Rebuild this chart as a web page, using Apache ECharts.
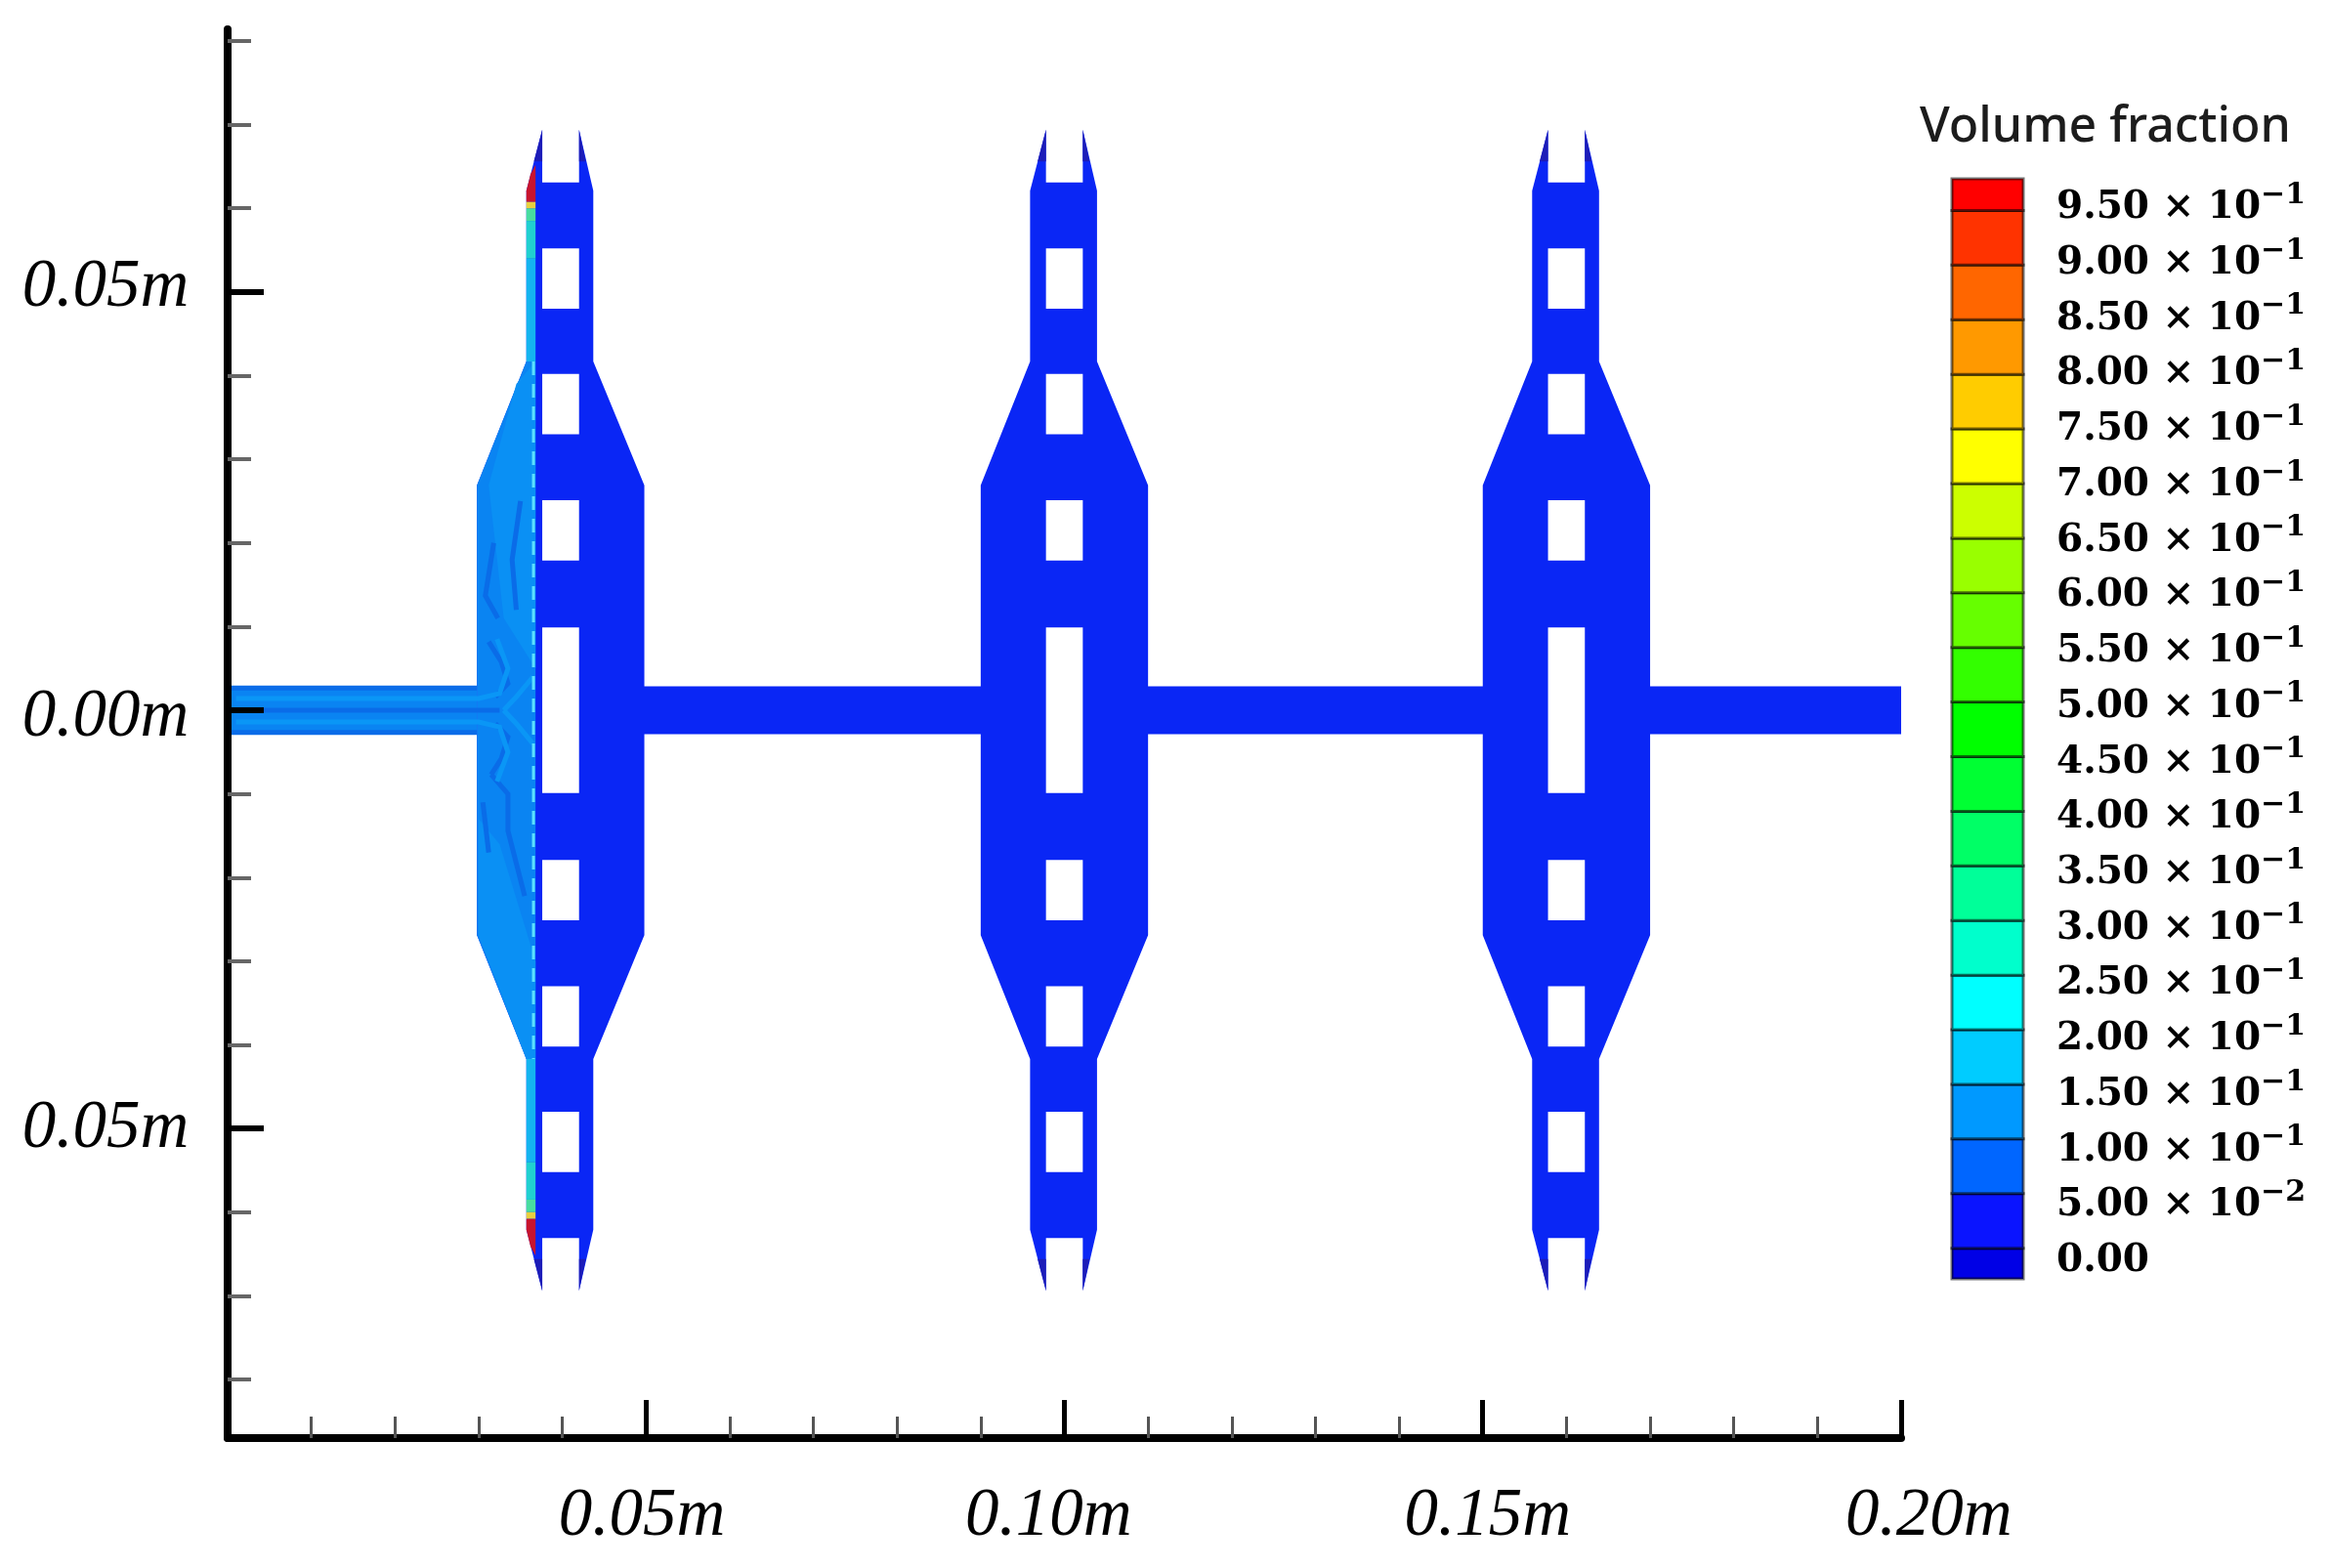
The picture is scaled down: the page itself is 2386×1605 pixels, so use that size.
<!DOCTYPE html>
<html><head><meta charset="utf-8">
<style>html,body{margin:0;padding:0;background:#fff}#c{width:2386px;height:1605px}</style>
<script src="https://cdn.jsdelivr.net/npm/echarts@6/dist/echarts.min.js"></script>
</head><body><div id="c"></div>
<script>
// ---- axes (metres)
const xMajorTicks = [0, 0.05, 0.10, 0.15, 0.20];
const yMajorTicks = [-0.05, 0, 0.05];
const yMinorTicks = [-0.08,-0.07,-0.06,-0.04,-0.03,-0.02,-0.01,0.01,0.02,0.03,0.04,0.06,0.07,0.08];
const xTickLabels = ['0.05m','0.10m','0.15m','0.20m'];
const xTickLabelPos = [[0.0495,-0.0965],[0.0981,-0.0965],[0.1506,-0.0965],[0.2033,-0.0965]];
const yTickLabels = ['0.05m','0.00m','0.05m'];
const yTickLabelPos = [[-0.0146,0.0505],[-0.0146,-0.0009],[-0.0146,-0.0501]];

// ---- colour scale
const legendTitle = 'Volume fraction';
const legendLevels = [0,0.05,0.10,0.15,0.20,0.25,0.30,0.35,0.40,0.45,0.50,0.55,0.60,0.65,0.70,0.75,0.80,0.85,0.90,0.95];
const legendMantissa = ['0.00','5.00','1.00','1.50','2.00','2.50','3.00','3.50','4.00','4.50','5.00','5.50','6.00','6.50','7.00','7.50','8.00','8.50','9.00','9.50'];
const legendExponent = ['','−2','−1','−1','−1','−1','−1','−1','−1','−1','−1','−1','−1','−1','−1','−1','−1','−1','−1','−1'];
const bandEdges = [-0.003,0.025,0.075,0.125,0.175,0.225,0.275,0.325,0.375,0.425,0.475,0.525,0.575,0.625,0.675,0.725,0.775,0.825,0.875,0.925,0.975,1.004];
const bandColors = ['#0000e6','#0a14ff','#0066ff','#0099ff','#00ccff','#00ffff','#00ffcc','#00ff99','#00ff66','#00ff33','#00ff00','#33ff00','#66ff00','#99ff00','#ccff00','#ffff00','#ffcc00','#ff9900','#ff6600','#ff3300','#ff0000'];

// ---- geometry of the channel (metres)
const unitCentres = [0.0398, 0.1000, 0.1600];
const unitOutline = [[-0.0022,0.0694],[-0.0041,0.0621],[-0.0041,0.0417],[-0.0100,0.0269],[-0.0100,-0.0269],[-0.0041,-0.0417],[-0.0041,-0.0621],[-0.0022,-0.0694],[-0.0022,-0.0631],[0.0022,-0.0631],[0.0022,-0.0694],[0.0039,-0.0621],[0.0039,-0.0417],[0.0100,-0.0269],[0.0100,0.0269],[0.0039,0.0417],[0.0039,0.0621],[0.0022,0.0694],[0.0022,0.0631],[-0.0022,0.0631]];
const holeRanges = [[-0.0099,0.0099],[0.0179,0.0251],[-0.0251,-0.0179],[0.0330,0.0402],[-0.0402,-0.0330],[0.0480,0.0552],[-0.0552,-0.0480]];
const holeHalfWidth = 0.0022;
const channelHalfHeight = 0.00286;
const channelEnd = 0.2;
const tipShades = [[[-0.0022,0.0694],[-0.0032,0.0656],[-0.0022,0.0656]],[[0.0022,0.0694],[0.0030,0.0656],[0.0022,0.0656]],[[-0.0022,-0.0694],[-0.0032,-0.0656],[-0.0022,-0.0656]],[[0.0022,-0.0694],[0.0030,-0.0656],[0.0022,-0.0656]]];

// ---- volume-fraction field in the first chamber (metres)
const inletChannel = [[0,0.00286],[0.0298,0.00286],[0.0298,-0.00286],[0,-0.00286]];
const flareRegion = [[0.0357,0.0417],[0.0298,0.0269],[0.0298,-0.0269],[0.0357,-0.0417],[0.0368,-0.0417],[0.0368,0.0417]];
const lightPatches = [
 [[0.0345,0.0390],[0.0312,0.0269],[0.0330,0.0110],[0.0368,0.0050],[0.0368,0.0417]],
 [[0.0300,-0.0130],[0.0325,-0.0160],[0.0368,-0.0300],[0.0368,-0.0417],[0.0357,-0.0417],[0.0300,-0.0269]]
];
const stripBands = [
 {color:'#14b4f0',pts:[[0.0357,0.0417],[0.0357,0.0540],[0.0368,0.0540],[0.0368,0.0417]]},
 {color:'#20d0d0',pts:[[0.0357,0.0540],[0.0357,0.0585],[0.0368,0.0585],[0.0368,0.0540]]},
 {color:'#48dca0',pts:[[0.0357,0.0585],[0.0357,0.0600],[0.0368,0.0600],[0.0368,0.0585]]},
 {color:'#e8d040',pts:[[0.0357,0.0600],[0.0357,0.0608],[0.0368,0.0608],[0.0368,0.0600]]},
 {color:'#c8142e',pts:[[0.0357,0.0608],[0.0357,0.0621],[0.0362,0.0641],[0.0368,0.0652],[0.0368,0.0608]]},
 {color:'#14b4f0',pts:[[0.0357,-0.0417],[0.0357,-0.0540],[0.0368,-0.0540],[0.0368,-0.0417]]},
 {color:'#20d0d0',pts:[[0.0357,-0.0540],[0.0357,-0.0585],[0.0368,-0.0585],[0.0368,-0.0540]]},
 {color:'#48dca0',pts:[[0.0357,-0.0585],[0.0357,-0.0600],[0.0368,-0.0600],[0.0368,-0.0585]]},
 {color:'#e8d040',pts:[[0.0357,-0.0600],[0.0357,-0.0608],[0.0368,-0.0608],[0.0368,-0.0600]]},
 {color:'#c8142e',pts:[[0.0357,-0.0608],[0.0357,-0.0621],[0.0362,-0.0641],[0.0368,-0.0652],[0.0368,-0.0608]]}
];
const darkStreaks = [
 [[0.0000,0.0000],[0.0325,0.0000]],
 [[0.0000,0.00265],[0.0298,0.00265]],
 [[0.0000,-0.00265],[0.0298,-0.00265]],
 [[0.0320,0.0016],[0.0335,0.0032],[0.0327,0.0058],[0.0312,0.0082]],
 [[0.0320,-0.0016],[0.0335,-0.0032],[0.0327,-0.0058],[0.0315,-0.0077]],
 [[0.0315,-0.0077],[0.0335,-0.0100],[0.0335,-0.0144],[0.0355,-0.0222]],
 [[0.0323,0.0110],[0.0308,0.0137],[0.0318,0.0200]],
 [[0.0345,0.0120],[0.0340,0.0180],[0.0350,0.0250]],
 [[0.0305,-0.0110],[0.0312,-0.0170]]
];
const lightStreaks = [
 [[0.0010,0.0014],[0.0300,0.0014],[0.0325,0.0020],[0.0335,0.0050],[0.0322,0.0085]],
 [[0.0010,-0.0014],[0.0300,-0.0014],[0.0325,-0.0020],[0.0335,-0.0050],[0.0322,-0.0085]],
 [[0.0330,0.0000],[0.0345,0.0016],[0.0365,0.0040]],
 [[0.0330,0.0000],[0.0345,-0.0016],[0.0365,-0.0040]]
];
const centreSeam = [[0.03655,0.0417],[0.03655,-0.0417]];

// ---- assemble the drawn shapes
const bodyColor = '#0a26f5';
const shapes = [];
unitCentres.forEach(c => shapes.push({color:bodyColor, pts:unitOutline.map(p=>[c+p[0],p[1]])}));
shapes.push({color:bodyColor, pts:[[0.03,channelHalfHeight],[channelEnd,channelHalfHeight],[channelEnd,-channelHalfHeight],[0.03,-channelHalfHeight]]});
unitCentres.forEach(c => holeRanges.forEach(r => shapes.push({color:'#ffffff', pts:[[c-holeHalfWidth,r[1]],[c+holeHalfWidth,r[1]],[c+holeHalfWidth,r[0]],[c-holeHalfWidth,r[0]]]})));
unitCentres.forEach(c => tipShades.forEach(t => shapes.push({color:'#1c1cb8', pts:t.map(p=>[c+p[0],p[1]])})));
shapes.push({color:'#0a84f2', pts:flareRegion});
lightPatches.forEach(p => shapes.push({color:'#0a90f4', pts:p}));
shapes.push({color:'#0a84f2', pts:inletChannel});
stripBands.forEach(b => shapes.push(b));
const lines = [];
darkStreaks.forEach(l => lines.push({color:'#0a6ce8', width:5, pts:l}));
lightStreaks.forEach(l => lines.push({color:'#0a96f6', width:5, pts:l}));
lines.push({color:'#5ce0ff', width:3, dash:[14,9], pts:centreSeam});

const serifLabel = {show:true, position:'inside', align:'center', verticalAlign:'middle', color:'#000', opacity:1, fontFamily:'"Liberation Serif"', fontStyle:'italic', fontSize:69, formatter:p=>p.name};

const chart = echarts.init(document.getElementById('c'), null, {renderer:'canvas'});
chart.setOption({
  animation:false,
  backgroundColor:'#fff',
  title:{text:legendTitle, left:1960, top:101, textStyle:{fontFamily:'"Noto Sans"', fontWeight:500, fontSize:50, color:'#1c1c1c'}},
  grid:[
    {left:233, top:30, width:1713, height:1442},
    {left:1998, top:183, width:73, height:1126}
  ],
  xAxis:[
    {type:'value', gridIndex:0, min:0, max:0.2, interval:0.05, z:5, splitLine:{show:false},
     axisLine:{onZero:false, lineStyle:{color:'#000', width:8}},
     axisTick:{inside:true, length:39, lineStyle:{color:'#000', width:5}},
     minorTick:{show:true, splitNumber:5, length:22, lineStyle:{color:'#555', width:3}},
     axisLabel:{show:false}},
    {type:'value', gridIndex:1, min:0, max:1, show:false}
  ],
  yAxis:[
    {type:'value', gridIndex:0, min:-0.087, max:0.0814, z:5, splitLine:{show:false},
     axisLine:{onZero:false, lineStyle:{color:'#000', width:8}},
     axisTick:{inside:true, length:37, customValues:yMajorTicks, lineStyle:{color:'#000', width:6}},
     axisLabel:{show:false}},
    {type:'value', gridIndex:0, min:-0.087, max:0.0814, z:5, position:'left', splitLine:{show:false},
     axisLine:{show:false, onZero:false},
     axisTick:{inside:true, length:24, customValues:yMinorTicks, lineStyle:{color:'#666', width:4}},
     axisLabel:{show:false}},
    {type:'value', gridIndex:1, min:-0.003, max:1.004, show:false},
    {type:'value', gridIndex:1, min:-0.0159, max:0.9765, position:'right', splitLine:{show:false},
     axisLine:{show:false, onZero:false}, axisTick:{show:false},
     axisLabel:{show:true, margin:34, customValues:legendLevels, hideOverlap:false,
       formatter:v=>{const i=Math.round(v/0.05); const m='{m|'+legendMantissa[i]+(legendExponent[i]?' × 10':'')+'}'; return legendExponent[i]?m+'{s|'+legendExponent[i]+'}':m;},
       rich:{
         m:{fontFamily:'"DejaVu Serif"', fontWeight:'bold', fontSize:39, lineHeight:56, color:'#000'},
         s:{fontFamily:'"DejaVu Serif"', fontWeight:'bold', fontSize:30, lineHeight:30, verticalAlign:'top', color:'#000'}
       }}}
  ],
  series:[
    {type:'custom', name:'domain', xAxisIndex:0, yAxisIndex:0, z:2, clip:false, silent:true,
     data:shapes.map((s,i)=>[i]),
     renderItem:(params,api)=>{const s=shapes[params.dataIndex];
       return {type:'polygon', shape:{points:s.pts.map(p=>api.coord(p))}, style:{fill:s.color, stroke:null}};}},
    {type:'custom', name:'streaks', xAxisIndex:0, yAxisIndex:0, z:3, clip:false, silent:true,
     data:lines.map((s,i)=>[i]),
     renderItem:(params,api)=>{const s=lines[params.dataIndex];
       return {type:'polyline', shape:{points:s.pts.map(p=>api.coord(p))}, style:{fill:null, stroke:s.color, lineWidth:s.width, lineDash:s.dash||null}};}},
    {type:'custom', name:'colorbar', xAxisIndex:1, yAxisIndex:2, z:2, clip:false, silent:true,
     data:bandColors.map((c,i)=>[i]),
     renderItem:(params,api)=>{const i=params.dataIndex;
       const a=api.coord([0,bandEdges[i+1]]), b=api.coord([1,bandEdges[i]]);
       return {type:'rect', shape:{x:a[0],y:a[1],width:b[0]-a[0],height:b[1]-a[1]},
         style:{fill:bandColors[i], stroke:'rgba(0,0,0,0.55)', lineWidth:3}};}},
    {type:'scatter', name:'xlabels', xAxisIndex:0, yAxisIndex:0, clip:false, silent:true, symbolSize:1, itemStyle:{color:'rgba(0,0,0,0)', opacity:1}, z:6,
     label:serifLabel,
     data:xTickLabels.map((t,i)=>({name:t, value:xTickLabelPos[i]}))},
    {type:'scatter', name:'ylabels', xAxisIndex:0, yAxisIndex:0, clip:false, silent:true, symbolSize:1, itemStyle:{color:'rgba(0,0,0,0)', opacity:1}, z:6,
     label:serifLabel,
     data:yTickLabels.map((t,i)=>({name:t, value:yTickLabelPos[i]}))}
  ]
});
</script></body></html>
